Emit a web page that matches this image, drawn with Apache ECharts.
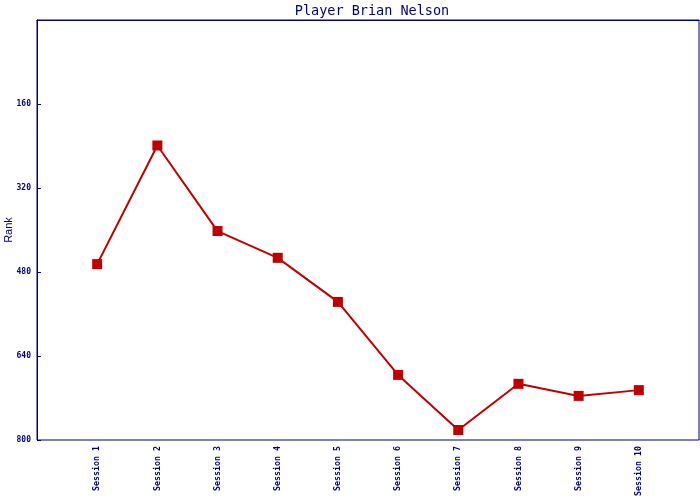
<!DOCTYPE html>
<html><head><meta charset="utf-8">
<script src="https://cdn.jsdelivr.net/npm/echarts@6/dist/echarts.min.js"></script>
<style>html,body{margin:0;padding:0;background:#fff}#c{width:700px;height:500px}</style>
</head><body><div id="c"></div>
<script>
const categories = ['Session 1','Session 2','Session 3','Session 4','Session 5','Session 6','Session 7','Session 8','Session 9','Session 10'];
const ranks = [465, 239, 402, 453, 537, 676, 781, 693, 716, 705];
const yTicks = [160, 320, 480, 640, 800];

const navy = '#000080';
const red = '#c00000';
const xData = [''].concat(categories, ['']);
const yData = [null].concat(ranks, [null]);

const chart = echarts.init(document.getElementById('c'), null, {renderer:'canvas'});
chart.setOption({
  animation: false,
  backgroundColor: '#fff',
  title: {
    text: 'Player Brian Nelson',
    left: 367, textAlign: 'center', top: -1,
    textStyle: {fontFamily: 'DejaVu Sans Mono', fontSize: 13.5, fontWeight: 'normal', color: navy}
  },
  grid: {left: 37, top: 20, right: 1, bottom: 60, containLabel: false, outerBoundsMode: 'none',
    show: true, borderColor: navy, borderWidth: 1, backgroundColor: '#fff'},
  xAxis: {
    type: 'category', data: xData, boundaryGap: false,
    axisLine: {lineStyle: {color: navy, width: 1}},
    axisTick: {show: false},
    axisLabel: {rotate: 90, interval: 0, margin: 6, color: navy, fontFamily: 'DejaVu Sans Mono', fontSize: 8.3, fontWeight: 'bold'}
  },
  yAxis: {
    type: 'value', inverse: true, min: 0, max: 800, interval: 160,
    name: 'Rank', nameLocation: 'middle', nameGap: 23, nameRotate: 90, nameMoveOverlap: false,
    nameTextStyle: {color: navy, fontFamily: 'Liberation Sans', fontSize: 11},
    axisLine: {show: true, lineStyle: {color: navy, width: 1}},
    axisTick: {show: true, inside: true, length: 4, lineStyle: {color: navy}},
    splitLine: {show: false},
    axisLabel: {color: navy, fontFamily: 'DejaVu Sans Mono', fontSize: 8, fontWeight: 'bold', margin: 6,
      formatter: v => yTicks.indexOf(v) >= 0 ? String(v) : ''}
  },
  series: [{
    type: 'line', data: yData, connectNulls: false,
    symbol: 'rect', symbolSize: 10,
    lineStyle: {color: red, width: 2},
    itemStyle: {color: red}
  }]
});
</script></body></html>
